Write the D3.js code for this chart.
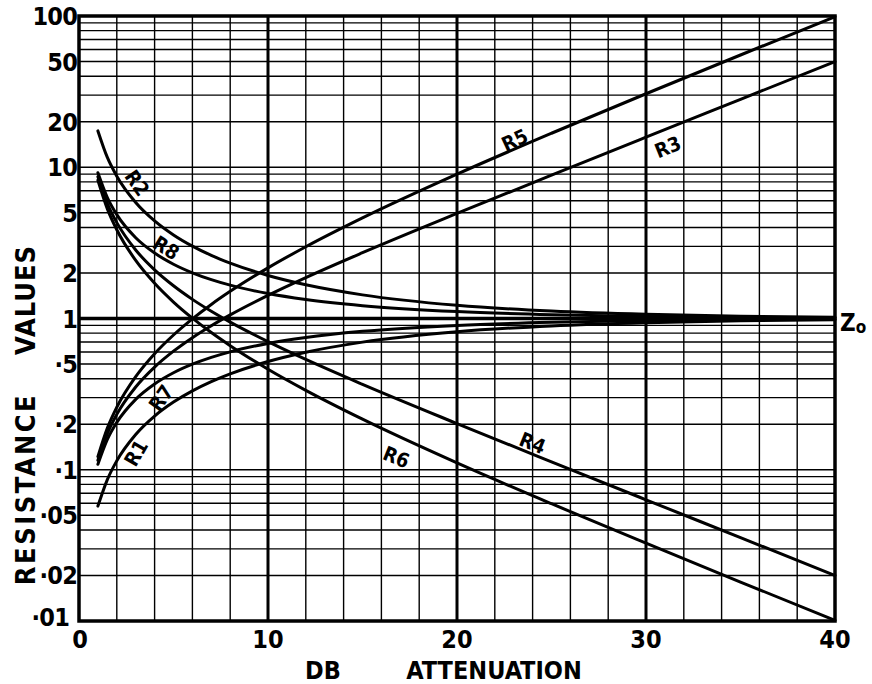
<!DOCTYPE html>
<html>
<head>
<meta charset="utf-8">
<script src="https://cdn.jsdelivr.net/npm/d3@7"></script>
<style>
  html, body { margin: 0; padding: 0; background: #fff; }
  svg { display: block; }
  text { font-family: "DejaVu Sans Condensed", "DejaVu Sans", "Liberation Sans", sans-serif; font-weight: bold; fill: #000; }
</style>
</head>
<body>
<svg id="chart" width="872" height="684"></svg>
<script>
// ---- data ----
const db = [1, 1.5, 2, 3, 4, 5, 6, 7, 8, 10, 12, 15, 20, 25, 30, 35, 40];
const r1 = [0.0575, 0.0861, 0.1146, 0.171, 0.2263, 0.2801, 0.3323, 0.3825, 0.4305, 0.5195, 0.5985, 0.698, 0.8182, 0.8935, 0.9387, 0.9651, 0.9802];
const r2 = [17.39, 11.61, 8.73, 5.85, 4.42, 3.57, 3.01, 2.614, 2.323, 1.925, 1.671, 1.433, 1.222, 1.119, 1.065, 1.036, 1.02];
const r3 = [0.1154, 0.1736, 0.2323, 0.3523, 0.477, 0.608, 0.7471, 0.896, 1.0569, 1.423, 1.865, 2.723, 4.95, 8.863, 15.8, 28.11, 50.0];
const r4 = [8.666, 5.762, 4.305, 2.838, 2.096, 1.645, 1.338, 1.116, 0.946, 0.703, 0.536, 0.367, 0.202, 0.1128, 0.0633, 0.0356, 0.02];
const r5 = [0.122, 0.1885, 0.259, 0.4125, 0.585, 0.778, 0.995, 1.239, 1.512, 2.162, 2.981, 4.623, 9.0, 16.78, 30.62, 55.23, 99.0];
const r6 = [8.2, 5.305, 3.86, 2.42, 1.71, 1.285, 1.005, 0.807, 0.661, 0.462, 0.335, 0.216, 0.111, 0.0596, 0.0327, 0.0181, 0.0101];
const r7 = [0.1087, 0.1586, 0.2057, 0.2921, 0.369, 0.4377, 0.4988, 0.5533, 0.6019, 0.6838, 0.7488, 0.8222, 0.9, 0.9438, 0.9684, 0.9822, 0.99];
const r8 = [9.2, 6.305, 4.86, 3.42, 2.71, 2.285, 2.005, 1.807, 1.661, 1.462, 1.335, 1.216, 1.111, 1.0596, 1.0327, 1.0181, 1.0101];

const seriesNames = ["R1", "R2", "R3", "R4", "R5", "R6", "R7", "R8"];
const seriesValues = [r1, r2, r3, r4, r5, r6, r7, r8];

// curve label anchors: [dB, value, rotation]
const labelDb    = [3.02, 3.07, 31.15, 24.0, 23.05, 16.79, 4.34, 4.61];
const labelVal   = [0.129, 7.87, 13.6, 0.150, 15.1, 0.121, 0.298, 2.93];
const labelAngle = [-60, 55, -22, 22, -25, 22, -55, 32];

const xTicks = [0, 10, 20, 30, 40];
const yTicks = [100, 50, 20, 10, 5, 2, 1, 0.5, 0.2, 0.1, 0.05, 0.02, 0.01];
const yTickLabels = ["100", "50", "20", "10", "5", "2", "1", "·5", "·2", "·1", "·05", "·02", "·01"];

// ---- drawing ----
const svg = d3.select("#chart");
const x = d3.scaleLinear().domain([0, 40]).range([79, 835]);
const y = d3.scaleLog().domain([0.01, 100]).range([621, 16]);

const grid = svg.append("g");
// vertical grid every 2 dB
const vLines = d3.range(2, 40, 2);
grid.selectAll("line.v").data(vLines).join("line")
  .attr("x1", d => x(d)).attr("x2", d => x(d))
  .attr("y1", y(100)).attr("y2", y(0.01))
  .attr("stroke", "#000")
  .attr("stroke-width", d => d % 10 === 0 ? 3 : 1.4);

// horizontal log grid
const hLines = [];
[0.01, 0.1, 1, 10].forEach(dec => { for (let m = 1; m <= 9; m++) hLines.push(dec * m); });
hLines.push(100);
grid.selectAll("line.h").data(hLines.filter(v => v > 0.0101 && v < 99)).join("line")
  .attr("x1", x(0)).attr("x2", x(40))
  .attr("y1", d => y(d)).attr("y2", d => y(d))
  .attr("stroke", "#000")
  .attr("stroke-width", d => Math.abs(d - 1) < 1e-9 ? 3.5 : 1.4);

// frame
grid.append("rect")
  .attr("x", x(0)).attr("y", y(100))
  .attr("width", x(40) - x(0)).attr("height", y(0.01) - y(100))
  .attr("fill", "none").attr("stroke", "#000").attr("stroke-width", 3.5);

// curves
const line = d3.line()
  .x((d, i) => x(db[i]))
  .y(d => y(d))
  .curve(d3.curveMonotoneX);
svg.append("g").selectAll("path").data(seriesValues).join("path")
  .attr("d", d => line(d))
  .attr("fill", "none").attr("stroke", "#000")
  .attr("stroke-width", 3).attr("stroke-linecap", "round");

// curve labels
svg.append("g").selectAll("text").data(seriesNames).join("text")
  .attr("transform", (d, i) => `translate(${x(labelDb[i])},${y(labelVal[i])}) rotate(${labelAngle[i]})`)
  .attr("text-anchor", "middle").attr("dominant-baseline", "central")
  .style("font-size", "20px")
  .text(d => d);

// Zo label
const zo = svg.append("text")
  .attr("x", x(40) + 5).attr("y", y(1) + 12)
  .style("font-size", "24px");
zo.append("tspan").text("Z");
zo.append("tspan").attr("dy", 2).style("font-size", "17px").text("o");

// y tick labels
svg.append("g").selectAll("text").data(yTicks).join("text")
  .attr("x", d => d === 0.01 ? x(0) - 10 : x(0) - 2)
  .attr("y", d => d === 0.01 ? y(d) + 5 : y(d) + 9)
  .attr("text-anchor", "end")
  .style("font-size", "25px").style("letter-spacing", "-0.8px")
  .text((d, i) => yTickLabels[i]);

// x tick labels
svg.append("g").selectAll("text").data(xTicks).join("text")
  .attr("x", d => d === 0 ? x(d) + 1 : x(d)).attr("y", 648)
  .attr("text-anchor", "middle")
  .style("font-size", "25px")
  .text(d => d);

// axis titles
svg.append("text").attr("x", 323).attr("y", 679).attr("text-anchor", "middle")
  .style("font-size", "25px").text("DB");
svg.append("text").attr("x", 494).attr("y", 679).attr("text-anchor", "middle")
  .style("font-size", "25px").text("ATTENUATION");

svg.append("text").attr("transform", "translate(35,489) rotate(-90)").attr("text-anchor", "middle")
  .style("font-size", "27px").style("letter-spacing", "2.5px").text("RESISTANCE");
svg.append("text").attr("transform", "translate(35,300) rotate(-90)").attr("text-anchor", "middle")
  .style("font-size", "27px").style("letter-spacing", "1px").text("VALUES");
</script>
</body>
</html>
